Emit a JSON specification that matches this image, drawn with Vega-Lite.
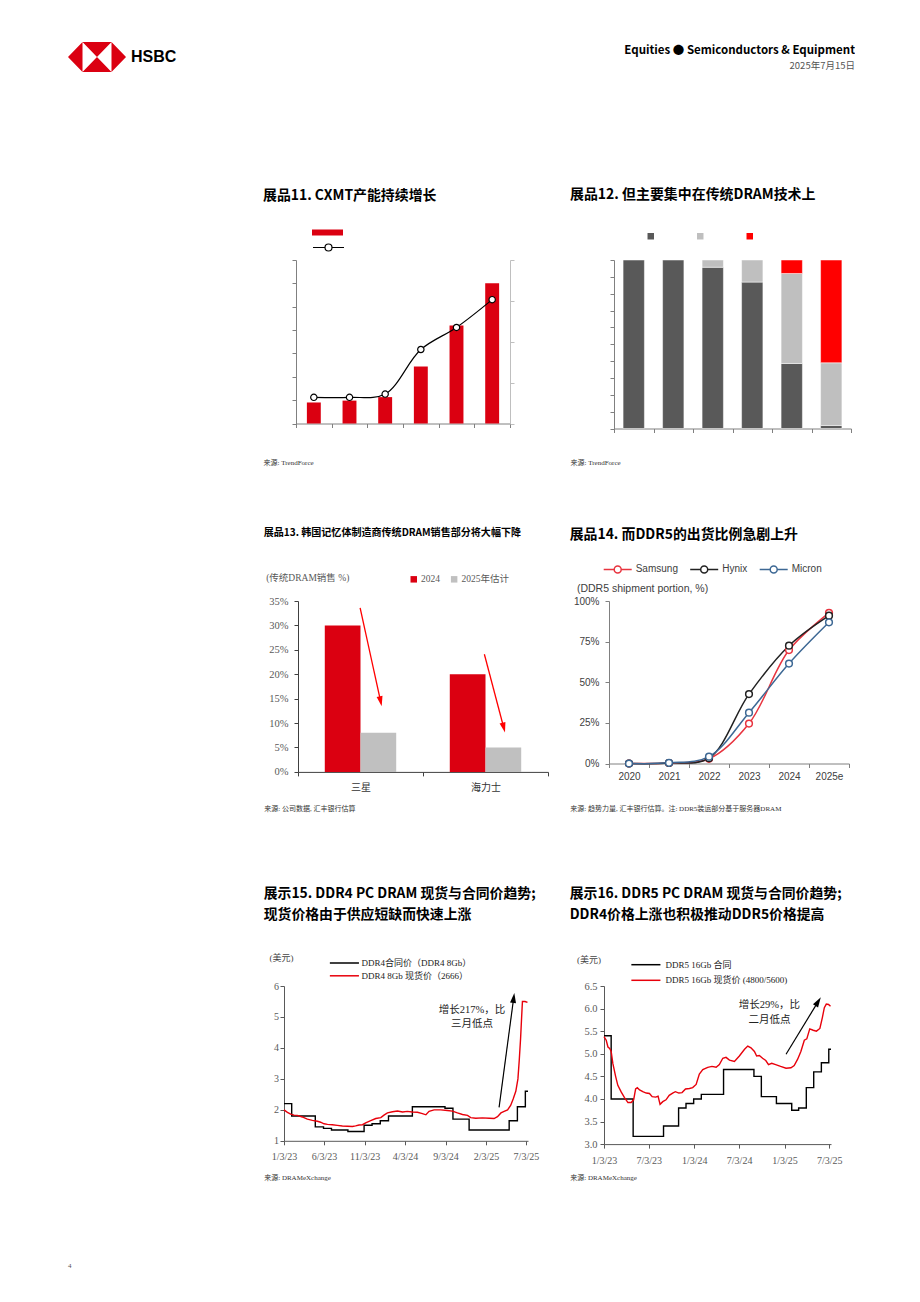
{
"$schema": "https://vega.github.io/schema/vega-lite/v6.json",
"background": "white",
"padding": {"left": 68, "top": 42, "right": 0, "bottom": 0},
"spacing": 0,
"title": {"text": "4", "orient": "bottom", "anchor": "start", "frame": "bounds", "offset": 81, "fontSize": 7, "fontWeight": "normal", "font": "Liberation Serif", "color": "#555555"},
"resolve": {"scale": {"color": "independent", "fill": "independent", "stroke": "independent"}, "legend": {"color": "independent", "fill": "independent", "stroke": "independent"}},
"config": {
  "view": {"stroke": null},
  "font": "Noto Sans CJK SC",
  "concat": {"spacing": 0},
  "title": {"font": "Noto Sans CJK SC", "fontWeight": "bold", "color": "#000000", "anchor": "start", "frame": "group"},
  "axis": {"grid": false, "domainColor": "#808080", "tickColor": "#808080", "tickSize": 4, "domainWidth": 1, "tickWidth": 1, "labelFont": "Liberation Serif, Noto Sans CJK SC", "labelFontSize": 10, "labelColor": "#595959", "titleFont": "Liberation Serif, Noto Sans CJK SC", "titleFontSize": 7, "titleFontWeight": "normal", "titleColor": "#333333", "titleAlign": "left", "titleBaseline": "middle", "titleAngle": 0},
  "legend": {"padding": 0}
},
"datasets": {
  "c11": [{"p":"2020","cap":0.9,"share":0.64},{"p":"2021","cap":0.98,"share":0.64},{"p":"2022","cap":1.13,"share":0.72},{"p":"2023","cap":2.44,"share":1.81},{"p":"2024","cap":4.2,"share":2.35},{"p":"2025e","cap":6.0,"share":3.03}],
  "c12": [{"p":"2020","seg":"D1x/D1y","o":0,"v":100},{"p":"2021","seg":"D1x/D1y","o":0,"v":100},{"p":"2022","seg":"D1x/D1y","o":0,"v":95.7},{"p":"2022","seg":"D1z","o":1,"v":4.3},{"p":"2023","seg":"D1x/D1y","o":0,"v":86.9},{"p":"2023","seg":"D1z","o":1,"v":13.1},{"p":"2024","seg":"D1x/D1y","o":0,"v":38.6},{"p":"2024","seg":"D1z","o":1,"v":53.4},{"p":"2024","seg":"D1a/D1b","o":2,"v":8.0},{"p":"2025e","seg":"D1x/D1y","o":0,"v":1.8},{"p":"2025e","seg":"D1z","o":1,"v":37.2},{"p":"2025e","seg":"D1a/D1b","o":2,"v":61.0}],
  "c13": [{"co":"三星","yr":"2024","v":0.30},{"co":"三星","yr":"2025年估计","v":0.08},{"co":"海力士","yr":"2024","v":0.20},{"co":"海力士","yr":"2025年估计","v":0.05}],
  "c13a": [{"id":1,"x1":0.497,"y1":0.336,"x2":0.661,"y2":0.1445},{"id":2,"x1":1.491,"y1":0.241,"x2":1.646,"y2":0.0905}],
  "c14": [{"yr":"2020","co":"Samsung","v":0},{"yr":"2021","co":"Samsung","v":0.003},{"yr":"2022","co":"Samsung","v":0.029},{"yr":"2023","co":"Samsung","v":0.246},{"yr":"2024","co":"Samsung","v":0.698},{"yr":"2025e","co":"Samsung","v":0.927},{"yr":"2020","co":"Hynix","v":0},{"yr":"2021","co":"Hynix","v":0.003},{"yr":"2022","co":"Hynix","v":0.033},{"yr":"2023","co":"Hynix","v":0.427},{"yr":"2024","co":"Hynix","v":0.725},{"yr":"2025e","co":"Hynix","v":0.91},{"yr":"2020","co":"Micron","v":0},{"yr":"2021","co":"Micron","v":0.004},{"yr":"2022","co":"Micron","v":0.042},{"yr":"2023","co":"Micron","v":0.313},{"yr":"2024","co":"Micron","v":0.615},{"yr":"2025e","co":"Micron","v":0.869}],
  "c15c": [{"d":"2023-01-03","v":2.2},{"d":"2023-02-01","v":1.8},{"d":"2023-05-01","v":1.45},{"d":"2023-06-01","v":1.4},{"d":"2023-07-01","v":1.35},{"d":"2023-09-01","v":1.3},{"d":"2023-11-01","v":1.5},{"d":"2023-12-01","v":1.55},{"d":"2024-01-01","v":1.65},{"d":"2024-02-01","v":1.8},{"d":"2024-05-01","v":2.1},{"d":"2024-09-01","v":2.05},{"d":"2024-10-01","v":1.7},{"d":"2024-12-01","v":1.35},{"d":"2025-05-01","v":1.65},{"d":"2025-06-01","v":2.1},{"d":"2025-07-01","v":2.6},{"d":"2025-07-11","v":2.6}],
  "c15s": [{"d":"2023-01-03","v":2.0},{"d":"2023-01-16","v":1.92},{"d":"2023-01-28","v":1.86},{"d":"2023-02-10","v":1.83},{"d":"2023-02-22","v":1.82},{"d":"2023-03-13","v":1.77},{"d":"2023-04-01","v":1.7},{"d":"2023-04-20","v":1.66},{"d":"2023-05-09","v":1.63},{"d":"2023-05-21","v":1.6},{"d":"2023-06-03","v":1.55},{"d":"2023-06-16","v":1.53},{"d":"2023-07-04","v":1.52},{"d":"2023-07-23","v":1.5},{"d":"2023-08-11","v":1.48},{"d":"2023-08-30","v":1.47},{"d":"2023-09-18","v":1.46},{"d":"2023-09-30","v":1.48},{"d":"2023-10-13","v":1.51},{"d":"2023-10-26","v":1.52},{"d":"2023-11-07","v":1.58},{"d":"2023-11-26","v":1.65},{"d":"2023-12-15","v":1.72},{"d":"2024-01-03","v":1.75},{"d":"2024-01-15","v":1.83},{"d":"2024-01-28","v":1.9},{"d":"2024-02-16","v":1.94},{"d":"2024-03-06","v":1.96},{"d":"2024-03-25","v":1.93},{"d":"2024-04-12","v":1.95},{"d":"2024-05-01","v":1.93},{"d":"2024-05-20","v":1.92},{"d":"2024-06-08","v":1.88},{"d":"2024-06-21","v":1.84},{"d":"2024-07-03","v":1.95},{"d":"2024-07-22","v":2.0},{"d":"2024-08-16","v":2.0},{"d":"2024-09-10","v":1.98},{"d":"2024-09-29","v":1.96},{"d":"2024-10-18","v":1.9},{"d":"2024-11-06","v":1.85},{"d":"2024-11-25","v":1.82},{"d":"2024-12-07","v":1.75},{"d":"2024-12-26","v":1.73},{"d":"2025-01-20","v":1.74},{"d":"2025-02-15","v":1.73},{"d":"2025-03-05","v":1.72},{"d":"2025-03-18","v":1.78},{"d":"2025-03-31","v":1.9},{"d":"2025-04-12","v":1.95},{"d":"2025-04-25","v":2.0},{"d":"2025-05-07","v":2.15},{"d":"2025-05-16","v":2.35},{"d":"2025-05-26","v":2.6},{"d":"2025-06-03","v":3.0},{"d":"2025-06-08","v":3.6},{"d":"2025-06-13","v":4.3},{"d":"2025-06-17","v":5.0},{"d":"2025-06-20","v":5.5},{"d":"2025-06-30","v":5.5},{"d":"2025-07-09","v":5.47}],
  "c15a": [{"d":"2025-03-24","v":2.08,"d2":"2025-05-18","v2":5.613}],
  "c15t": [{"d":"2024-12-12","v":5.24,"t":"增长217%，比"},{"d":"2024-12-12","v":4.77,"t":"三月低点"}],
  "c16c": [{"d":"2023-01-03","v":5.4},{"d":"2023-02-01","v":4.0},{"d":"2023-05-01","v":3.17},{"d":"2023-09-01","v":3.4},{"d":"2023-11-01","v":3.8},{"d":"2023-12-01","v":3.9},{"d":"2024-01-01","v":4.0},{"d":"2024-02-01","v":4.1},{"d":"2024-05-01","v":4.65},{"d":"2024-09-01","v":4.5},{"d":"2024-10-01","v":4.05},{"d":"2024-12-01","v":3.9},{"d":"2025-02-01","v":3.75},{"d":"2025-03-01","v":3.8},{"d":"2025-04-01","v":4.25},{"d":"2025-05-01","v":4.6},{"d":"2025-06-01","v":4.8},{"d":"2025-07-01","v":5.1},{"d":"2025-07-10","v":5.1}],
  "c16s": [{"d":"2023-01-03","v":5.38},{"d":"2023-01-12","v":5.3},{"d":"2023-01-19","v":5.15},{"d":"2023-01-26","v":5.12},{"d":"2023-02-01","v":5.05},{"d":"2023-02-08","v":4.78},{"d":"2023-02-19","v":4.5},{"d":"2023-02-28","v":4.3},{"d":"2023-03-14","v":4.15},{"d":"2023-03-27","v":4.03},{"d":"2023-04-10","v":3.92},{"d":"2023-04-23","v":3.92},{"d":"2023-05-03","v":3.98},{"d":"2023-05-11","v":4.22},{"d":"2023-05-18","v":4.25},{"d":"2023-05-27","v":4.2},{"d":"2023-06-09","v":4.16},{"d":"2023-06-23","v":4.13},{"d":"2023-07-06","v":4.12},{"d":"2023-07-17","v":4.05},{"d":"2023-07-31","v":4.04},{"d":"2023-08-10","v":4.06},{"d":"2023-08-18","v":3.88},{"d":"2023-08-29","v":3.94},{"d":"2023-09-11","v":3.98},{"d":"2023-09-24","v":4.08},{"d":"2023-10-08","v":4.13},{"d":"2023-10-19","v":4.16},{"d":"2023-11-02","v":4.13},{"d":"2023-11-15","v":4.14},{"d":"2023-11-29","v":4.22},{"d":"2023-12-15","v":4.23},{"d":"2023-12-28","v":4.25},{"d":"2024-01-11","v":4.32},{"d":"2024-01-24","v":4.55},{"d":"2024-02-07","v":4.65},{"d":"2024-02-27","v":4.7},{"d":"2024-03-15","v":4.72},{"d":"2024-04-01","v":4.7},{"d":"2024-04-14","v":4.76},{"d":"2024-04-28","v":4.9},{"d":"2024-05-11","v":4.92},{"d":"2024-05-25","v":4.86},{"d":"2024-06-14","v":4.83},{"d":"2024-07-04","v":4.95},{"d":"2024-07-25","v":5.1},{"d":"2024-08-07","v":5.17},{"d":"2024-08-20","v":5.13},{"d":"2024-09-03","v":5.05},{"d":"2024-09-12","v":4.95},{"d":"2024-09-23","v":4.96},{"d":"2024-10-06","v":4.9},{"d":"2024-10-19","v":4.85},{"d":"2024-10-30","v":4.76},{"d":"2024-11-12","v":4.79},{"d":"2024-11-28","v":4.76},{"d":"2024-12-18","v":4.72},{"d":"2025-01-09","v":4.68},{"d":"2025-01-29","v":4.69},{"d":"2025-02-11","v":4.74},{"d":"2025-02-25","v":4.88},{"d":"2025-03-10","v":5.05},{"d":"2025-03-24","v":5.3},{"d":"2025-04-03","v":5.33},{"d":"2025-04-15","v":5.55},{"d":"2025-04-29","v":5.52},{"d":"2025-05-12","v":5.5},{"d":"2025-05-26","v":5.56},{"d":"2025-06-05","v":5.8},{"d":"2025-06-13","v":6.02},{"d":"2025-06-21","v":6.1},{"d":"2025-06-30","v":6.09},{"d":"2025-07-08","v":6.05}],
  "c16a": [{"d":"2025-01-09","v":4.99,"d2":"2025-05-19","v2":6.155}],
  "c16t": [{"d":"2024-11-03","v":6.08,"t":"增长29%，比"},{"d":"2024-11-03","v":5.745,"t":"二月低点"}]
},
"vconcat": [
  {
    "width": 787, "height": 30,
    "data": {"values": [{"k": 0}]},
    "layer": [
      {"mark": {"type": "point", "shape": "M0,0L0.967,-1L0.967,1Z M3.867,0L2.9,-1L2.9,1Z M0.967,-1L2.9,-1L1.933,0Z M0.967,1L2.9,1L1.933,0Z", "size": 900, "filled": true, "fill": "#db0011", "strokeWidth": 0, "opacity": 1},
       "encoding": {"x": {"datum": 0, "type": "quantitative", "scale": {"domain": [0, 1]}, "axis": null}, "y": {"datum": 0.5, "type": "quantitative", "scale": {"domain": [0, 1]}, "axis": null}}},
      {"mark": {"type": "text", "text": "HSBC", "align": "left", "baseline": "middle", "dx": 63, "fontSize": 16, "fontWeight": "bold", "font": "Liberation Sans", "color": "#000000"},
       "encoding": {"x": {"datum": 0, "type": "quantitative"}, "y": {"datum": 0.5, "type": "quantitative"}}},
      {"mark": {"type": "text", "text": "Equities ● Semiconductors & Equipment", "align": "right", "baseline": "middle", "dy": -6, "fontSize": 11.5, "fontWeight": "bold", "font": "Noto Sans CJK SC", "color": "#000000"},
       "encoding": {"x": {"datum": 1, "type": "quantitative"}, "y": {"datum": 0.5, "type": "quantitative"}}},
      {"mark": {"type": "text", "text": "2025年7月15日", "align": "right", "baseline": "middle", "dy": 8.6, "fontSize": 9.5, "font": "Noto Sans CJK SC", "color": "#555555"},
       "encoding": {"x": {"datum": 1, "type": "quantitative"}, "y": {"datum": 0.5, "type": "quantitative"}}}
    ]
  },
  {"width": 1, "height": 114.7, "data": {"values": []}, "mark": "point"},
  {
    "resolve": {"scale": {"color": "independent", "fill": "independent", "stroke": "independent"}, "legend": {"color": "independent", "fill": "independent", "stroke": "independent"}},
    "concat": [
      {"width": 195, "height": 1, "data": {"values": []}, "mark": "point"},
      {
        "width": 214, "height": 163.5,
        "title": {"text": "展品11. CXMT产能持续增长", "fontSize": 13.9, "dx": -33, "offset": 24.8},
        "data": {"name": "c11"},
        "encoding": {"x": {"field": "p", "type": "nominal", "sort": null, "scale": {"paddingInner": 0, "paddingOuter": 0}, "axis": {"labels": false, "tickBand": "extent", "title": "来源: TrendForce", "titleX": -33, "titleY": 39}}},
        "layer": [
          {"mark": {"type": "bar", "width": {"band": 0.39}},
           "encoding": {
             "y": {"field": "cap", "type": "quantitative", "scale": {"domain": [0, 7]}, "axis": {"values": [0,1,2,3,4,5,6,7], "labels": false, "title": null}},
             "fill": {"datum": "产能", "type": "nominal", "scale": {"range": ["#db0011"]}, "legend": {"orient": "none", "legendX": 26.5, "legendY": -32.5, "title": null, "labelExpr": "''", "symbolType": "M-3.1,-0.6H3.1V0.6H-3.1Z", "symbolSize": 100, "symbolStrokeWidth": 0, "labelOffset": 0}}
           }},
          {"encoding": {
             "y": {"field": "share", "type": "quantitative", "scale": {"domain": [0, 4]}, "axis": {"orient": "right", "values": [0,1,2,3,4], "labels": false, "title": null, "domainColor": "#bfbfbf", "tickColor": "#bfbfbf"}},
             "stroke": {"datum": "占比", "type": "nominal", "scale": {"range": ["#000000"]}, "legend": {"orient": "none", "legendX": 26.5, "legendY": -18.5, "title": null, "labelExpr": "''", "symbolType": "M-3.1,0H-0.7M0.7,0H3.1M-0.7,0A0.7,0.7,0,1,1,0.7,0A0.7,0.7,0,1,1,-0.7,0Z", "symbolSize": 100, "symbolStrokeWidth": 1.2, "labelOffset": 0, "encode": {"symbols": {"update": {"fill": {"value": "white"}}}}}}
           },
           "layer": [
             {"mark": {"type": "line", "interpolate": "catmull-rom", "strokeWidth": 1.2}},
             {"mark": {"type": "point", "filled": true, "fill": "white", "size": 40, "strokeWidth": 1.2, "opacity": 1}}
           ]}
        ],
        "resolve": {"scale": {"y": "independent"}}
      },
      {"width": 54.5, "height": 1, "data": {"values": []}, "mark": "point"},
      {
        "width": 237, "height": 168.5,
        "title": {"text": "展品12. 但主要集中在传统DRAM技术上", "fontSize": 13.95, "dx": -44, "offset": 29.5},
        "data": {"name": "c12"},
        "mark": {"type": "bar", "width": {"band": 0.54}, "stroke": "white", "strokeWidth": 0.5},
        "encoding": {
          "x": {"field": "p", "type": "nominal", "sort": null, "scale": {"paddingInner": 0, "paddingOuter": 0}, "axis": {"labels": false, "tickBand": "extent", "title": "来源: TrendForce", "titleX": -44, "titleY": 34}},
          "y": {"field": "v", "type": "quantitative", "stack": "zero", "scale": {"domain": [0, 100]}, "axis": {"values": [0,10,20,30,40,50,60,70,80,90,100], "labels": false, "title": null}},
          "color": {"field": "seg", "type": "nominal", "scale": {"domain": ["D1x/D1y", "D1z", "D1a/D1b"], "range": ["#595959", "#bfbfbf", "#ff0000"]}, "legend": {"orient": "none", "direction": "horizontal", "legendX": 31.75, "legendY": -28.75, "title": null, "labelExpr": "''", "symbolType": "square", "symbolSize": 42, "columnPadding": 39.5, "labelOffset": 0, "symbolStrokeWidth": 0}},
          "order": {"field": "o", "type": "quantitative"}
        }
      }
    ],
    "columns": 4, "align": "none", "spacing": 0
  },
  {"width": 1, "height": 61, "data": {"values": []}, "mark": "point"},
  {
    "resolve": {"scale": {"color": "independent", "fill": "independent", "stroke": "independent"}, "legend": {"color": "independent", "fill": "independent", "stroke": "independent"}},
    "concat": [
      {"width": 195, "height": 1, "data": {"values": []}, "mark": "point"},
      {
        "width": 250, "height": 170.9,
        "title": {"text": "展品13. 韩国记忆体制造商传统DRAM销售部分将大幅下降", "fontSize": 10.05, "dx": -34.3, "offset": 34.5},
        "layer": [
          {"data": {"name": "c13"}, "mark": {"type": "bar"},
           "encoding": {
             "x": {"field": "co", "type": "nominal", "sort": ["三星", "海力士"], "scale": {"paddingInner": 0, "paddingOuter": 0}, "axis": {"tickBand": "extent", "labelAngle": 0, "labelFontSize": 10, "labelColor": "#333333", "labelPadding": 7, "domainColor": "#404040", "tickColor": "#404040", "title": "来源: 公司数据, 汇丰银行估算", "titleX": -34.3, "titleY": 36.3}},
             "xOffset": {"field": "yr", "type": "nominal", "sort": ["2024", "2025年估计"], "scale": {"paddingInner": 0, "paddingOuter": 0.75}},
             "y": {"field": "v", "type": "quantitative", "scale": {"domain": [0, 0.35]}, "axis": {"values": [0,0.05,0.1,0.15,0.2,0.25,0.3,0.35], "format": ".0%", "labelFontSize": 10.5, "labelPadding": 6, "domainColor": "#404040", "tickColor": "#404040", "title": "(传统DRAM销售 %)", "titleX": -32.3, "titleY": -23.5, "titleFontSize": 9.5, "titleColor": "#595959"}},
             "color": {"field": "yr", "type": "nominal", "scale": {"domain": ["2024", "2025年估计"], "range": ["#db0011", "#c0c0c0"]}, "legend": {"orient": "none", "direction": "horizontal", "legendX": 111, "legendY": -26.8, "title": null, "symbolType": "square", "symbolSize": 42, "labelFont": "Liberation Serif, Noto Sans CJK SC", "labelFontSize": 9.5, "labelColor": "#595959", "labelOffset": 2.5, "columnPadding": 9.4, "symbolStrokeWidth": 0}}
           }},
          {"data": {"name": "c13a"},
           "encoding": {"x": {"field": "x1", "type": "quantitative", "scale": {"domain": [0, 2]}, "axis": null}, "y": {"field": "y1", "type": "quantitative", "scale": {"domain": [0, 0.35]}, "axis": null}},
           "layer": [
             {"mark": {"type": "rule", "color": "#ff0000", "strokeWidth": 1.3}, "encoding": {"x2": {"field": "x2"}, "y2": {"field": "y2"}}},
             {"transform": [{"filter": "datum.id == 1"}], "mark": {"type": "point", "shape": "M0,1L-0.6,-1L0.6,-1Z", "size": 100, "filled": true, "color": "#ff0000", "opacity": 1, "angle": 347.8}, "encoding": {"x": {"field": "x2", "type": "quantitative"}, "y": {"field": "y2", "type": "quantitative"}}},
             {"transform": [{"filter": "datum.id == 2"}], "mark": {"type": "point", "shape": "M0,1L-0.6,-1L0.6,-1Z", "size": 100, "filled": true, "color": "#ff0000", "opacity": 1, "angle": 345.5}, "encoding": {"x": {"field": "x2", "type": "quantitative"}, "y": {"field": "y2", "type": "quantitative"}}}
           ]}
        ],
        "resolve": {"scale": {"x": "independent", "y": "independent"}}
      },
      {"width": 19.2, "height": 1, "data": {"values": []}, "mark": "point"},
      {
        "width": 240, "height": 162.5,
        "title": {"text": "展品14. 而DDR5的出货比例急剧上升", "fontSize": 13.9, "dx": -39.3, "offset": 21.8},
        "data": {"name": "c14"},
        "encoding": {
          "x": {"field": "yr", "type": "ordinal", "sort": null, "scale": {"type": "band", "paddingInner": 0, "paddingOuter": 0}, "axis": {"tickBand": "extent", "labelAngle": 0, "labelFont": "Liberation Sans", "labelFontSize": 10, "labelColor": "#404040", "labelPadding": 3.5, "title": "来源: 趋势力量, 汇丰银行估算。注: DDR5装运部分基于服务器DRAM", "titleX": -39.3, "titleY": 44.7}},
          "y": {"field": "v", "type": "quantitative", "scale": {"domain": [0, 1]}, "axis": {"values": [0, 0.25, 0.5, 0.75, 1], "format": ".0%", "labelFont": "Liberation Sans", "labelFontSize": 10, "labelColor": "#404040", "labelPadding": 6, "title": "(DDR5 shipment portion, %)", "titleX": -32.6, "titleY": -12.5, "titleFont": "Liberation Sans", "titleFontSize": 10.5, "titleColor": "#404040"}},
          "stroke": {"field": "co", "type": "nominal", "scale": {"domain": ["Samsung", "Hynix", "Micron"], "range": ["#e8343f", "#222222", "#3d6894"]}, "legend": {"orient": "none", "direction": "horizontal", "legendX": 2.7, "legendY": -37.8, "title": null, "symbolType": "M-2.8,0H-0.7M0.7,0H2.8M-0.7,0A0.7,0.7,0,1,1,0.7,0A0.7,0.7,0,1,1,-0.7,0Z", "symbolSize": 100, "symbolStrokeWidth": 1.5, "labelFont": "Liberation Sans", "labelFontSize": 10, "labelColor": "#404040", "labelOffset": 12, "columnPadding": 8.5, "encode": {"symbols": {"update": {"fill": {"value": "white"}}}}}}
        },
        "layer": [
          {"mark": {"type": "line", "interpolate": "catmull-rom", "strokeWidth": 1.5}},
          {"mark": {"type": "point", "filled": true, "fill": "white", "size": 45, "strokeWidth": 1.5, "opacity": 1}}
        ]
      }
    ],
    "columns": 4, "align": "none", "spacing": 0
  },
  {"width": 1, "height": 73.7, "data": {"values": []}, "mark": "point"},
  {
    "resolve": {"scale": {"color": "independent", "fill": "independent", "stroke": "independent"}, "legend": {"color": "independent", "fill": "independent", "stroke": "independent"}},
    "concat": [
      {"width": 195, "height": 1, "data": {"values": []}, "mark": "point"},
      {
        "width": 244, "height": 154.8,
        "title": {"text": ["展示15. DDR4 PC DRAM 现货与合同价趋势;", "现货价格由于供应短缺而快速上涨"], "lineHeight": 21, "fontSize": 13.85, "dx": -20.3, "offset": 31.7},
        "encoding": {
          "x": {"field": "d", "type": "temporal", "scale": {"type": "utc", "domain": [{"year": 2023, "month": 1, "date": 3, "utc": true}, {"year": 2025, "month": 7, "date": 11, "utc": true}]},
                "axis": {"values": [{"year": 2023, "month": 1, "date": 3, "utc": true}, {"year": 2023, "month": 6, "date": 3, "utc": true}, {"year": 2023, "month": 11, "date": 3, "utc": true}, {"year": 2024, "month": 4, "date": 3, "utc": true}, {"year": 2024, "month": 9, "date": 3, "utc": true}, {"year": 2025, "month": 2, "date": 3, "utc": true}, {"year": 2025, "month": 7, "date": 3, "utc": true}], "format": "%-m/%-d/%y", "labelAngle": 0, "labelFlush": false, "labelOverlap": false, "labelFontSize": 10, "labelPadding": 7, "domainColor": "#595959", "tickColor": "#595959", "title": "来源: DRAMeXchange", "titleX": -20.3, "titleY": 37}},
          "y": {"field": "v", "type": "quantitative", "scale": {"domain": [1, 6]}, "axis": {"values": [1,2,3,4,5,6], "labelFontSize": 10, "labelPadding": 1.5, "domainColor": "#595959", "tickColor": "#595959", "title": "(美元)", "titleX": -15, "titleY": -28.5, "titleFontSize": 9, "titleColor": "#444444"}}
        },
        "layer": [
          {"data": {"name": "c15c"}, "mark": {"type": "line", "interpolate": "step-after", "strokeWidth": 1.4},
           "encoding": {"stroke": {"datum": "DDR4合同价（DDR4 8Gb）", "type": "nominal", "scale": {"domain": ["DDR4合同价（DDR4 8Gb）", "DDR4 8Gb 现货价（2666）"], "range": ["#000000", "#e8000b"]}, "legend": {"orient": "none", "direction": "vertical", "legendX": 54.4, "legendY": -29, "title": null, "symbolType": "M-3,0H3", "symbolSize": 94, "symbolStrokeWidth": 1.5, "labelOffset": 11, "rowPadding": 1.8, "labelFont": "Liberation Serif, Noto Sans CJK SC", "labelFontSize": 9, "labelColor": "#222222"}}}},
          {"data": {"name": "c15s"}, "mark": {"type": "line", "strokeWidth": 1.4},
           "encoding": {"stroke": {"datum": "DDR4 8Gb 现货价（2666）", "type": "nominal"}}},
          {"data": {"name": "c15a"}, "mark": {"type": "rule", "color": "#000000", "strokeWidth": 1.2},
           "encoding": {"x2": {"field": "d2"}, "y2": {"field": "v2"}}},
          {"data": {"name": "c15a"}, "mark": {"type": "point", "shape": "M0,-1L0.6,1L-0.6,1Z", "size": 100, "filled": true, "color": "#000000", "opacity": 1, "angle": 7.35},
           "encoding": {"x": {"field": "d2", "type": "temporal"}, "y": {"field": "v2", "type": "quantitative"}}},
          {"data": {"name": "c15t"}, "mark": {"type": "text", "align": "center", "baseline": "middle", "font": "Liberation Serif, Noto Sans CJK SC", "fontSize": 10.5, "color": "#222222"},
           "encoding": {"text": {"field": "t", "type": "nominal"}}}
        ]
      },
      {"width": 30, "height": 1, "data": {"values": []}, "mark": "point"},
      {
        "width": 227, "height": 158.1,
        "title": {"text": ["展示16. DDR5 PC DRAM 现货与合同价趋势;", "DDR4价格上涨也积极推动DDR5价格提高"], "lineHeight": 21, "fontSize": 13.85, "dx": -34.3, "offset": 33.3},
        "encoding": {
          "x": {"field": "d", "type": "temporal", "scale": {"type": "utc", "domain": [{"year": 2023, "month": 1, "date": 3, "utc": true}, {"year": 2025, "month": 7, "date": 10, "utc": true}]},
                "axis": {"values": [{"year": 2023, "month": 1, "date": 3, "utc": true}, {"year": 2023, "month": 7, "date": 3, "utc": true}, {"year": 2024, "month": 1, "date": 3, "utc": true}, {"year": 2024, "month": 7, "date": 3, "utc": true}, {"year": 2025, "month": 1, "date": 3, "utc": true}, {"year": 2025, "month": 7, "date": 3, "utc": true}], "format": "%-m/%-d/%y", "labelAngle": 0, "labelFlush": false, "labelOverlap": false, "labelFontSize": 10, "labelPadding": 7, "domainColor": "#595959", "tickColor": "#595959", "title": "来源: DRAMeXchange", "titleX": -34.3, "titleY": 33.7}},
          "y": {"field": "v", "type": "quantitative", "scale": {"domain": [3, 6.5]}, "axis": {"values": [3,3.5,4,4.5,5,5.5,6,6.5], "format": ".1f", "labelFontSize": 10.5, "labelPadding": 3, "domainColor": "#595959", "tickColor": "#595959", "title": "(美元)", "titleX": -27.6, "titleY": -26.9, "titleFontSize": 9, "titleColor": "#444444"}}
        },
        "layer": [
          {"data": {"name": "c16c"}, "mark": {"type": "line", "interpolate": "step-after", "strokeWidth": 1.4},
           "encoding": {"stroke": {"datum": "DDR5 16Gb 合同", "type": "nominal", "scale": {"domain": ["DDR5 16Gb 合同", "DDR5 16Gb 现货价 (4800/5600)"], "range": ["#000000", "#e8000b"]}, "legend": {"orient": "none", "direction": "vertical", "legendX": 35.9, "legendY": -27.3, "title": null, "symbolType": "M-3,0H3", "symbolSize": 94, "symbolStrokeWidth": 1.5, "labelOffset": 13.5, "rowPadding": 4.6, "labelFont": "Liberation Serif, Noto Sans CJK SC", "labelFontSize": 9, "labelColor": "#222222"}}}},
          {"data": {"name": "c16s"}, "mark": {"type": "line", "strokeWidth": 1.4},
           "encoding": {"stroke": {"datum": "DDR5 16Gb 现货价 (4800/5600)", "type": "nominal"}}},
          {"data": {"name": "c16a"}, "mark": {"type": "rule", "color": "#000000", "strokeWidth": 1.2},
           "encoding": {"x2": {"field": "d2"}, "y2": {"field": "v2"}}},
          {"data": {"name": "c16a"}, "mark": {"type": "point", "shape": "M0,-1L0.6,1L-0.6,1Z", "size": 100, "filled": true, "color": "#000000", "opacity": 1, "angle": 32.1},
           "encoding": {"x": {"field": "d2", "type": "temporal"}, "y": {"field": "v2", "type": "quantitative"}}},
          {"data": {"name": "c16t"}, "mark": {"type": "text", "align": "center", "baseline": "middle", "font": "Liberation Serif, Noto Sans CJK SC", "fontSize": 10.5, "color": "#222222"},
           "encoding": {"text": {"field": "t", "type": "nominal"}}}
        ]
      }
    ],
    "columns": 4, "align": "none", "spacing": 0
  }
]
}
